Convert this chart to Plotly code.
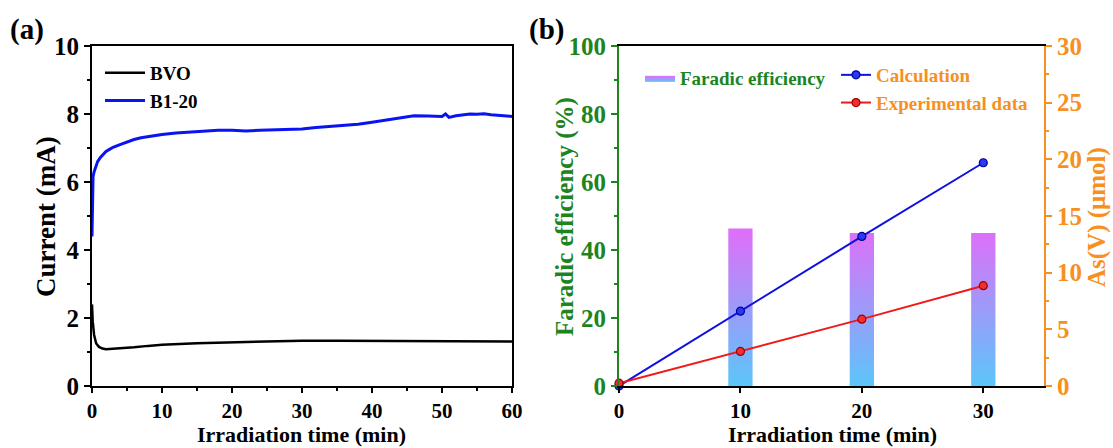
import plotly.graph_objects as go

# ---------------- Panel (a) data ----------------
time_bvo = [0, 0.1, 0.3, 0.6, 1.0, 1.5, 2, 3, 4, 6, 8, 10, 15, 20, 25, 30, 35, 40, 45, 50, 55, 60]
cur_bvo = [2.4, 1.9, 1.5, 1.25, 1.15, 1.1, 1.08, 1.09, 1.1, 1.14, 1.18, 1.21, 1.26, 1.29, 1.31,
           1.33, 1.33, 1.33, 1.32, 1.32, 1.31, 1.31]

time_b120 = [0, 0.05, 0.15, 0.3, 0.5, 0.8, 1.2, 1.6, 2, 2.5, 3, 4, 5, 6, 7, 8, 9, 10, 12, 14, 16,
             18, 20, 22, 24, 26, 28, 30, 32, 34, 36, 38, 40, 42, 44, 45, 46, 48, 50, 50.5, 51, 52,
             53, 54, 55, 56, 57, 58, 59, 60]
cur_b120 = [4.4, 5.9, 6.15, 6.3, 6.45, 6.6, 6.72, 6.82, 6.9, 6.96, 7.02, 7.1, 7.18, 7.25, 7.3,
            7.34, 7.37, 7.4, 7.44, 7.47, 7.5, 7.52, 7.52, 7.5, 7.52, 7.53, 7.55, 7.56, 7.6, 7.63,
            7.66, 7.7, 7.76, 7.82, 7.88, 7.92, 7.95, 7.94, 7.93, 8.0, 7.9, 7.95, 7.98, 8.0, 7.99,
            8.01, 7.98, 7.97, 7.95, 7.93]

# ---------------- Panel (b) data ----------------
fe_time = [10, 20, 30]
fe_values = [46.3, 45.0, 45.0]
as_time = [0, 10, 20, 30]
as_calc = [0.0, 6.6, 13.2, 19.7]
as_exp = [0.25, 3.05, 5.9, 8.85]

BAR_W = 2.0
GREEN = '#1E841E'
ORANGE = '#F7901E'
FONT = 'Liberation Serif'
W, H = 1113, 448

fig = go.Figure()

# Panel (a)
fig.add_trace(go.Scatter(x=time_bvo, y=cur_bvo, mode='lines', name='BVO',
                         line=dict(color='black', width=2.5), xaxis='x', yaxis='y',
                         legend='legend3'))
fig.add_trace(go.Scatter(x=time_b120, y=cur_b120, mode='lines', name='B1-20',
                         line=dict(color='#0A14F0', width=3), xaxis='x', yaxis='y',
                         legend='legend3'))

# Panel (b) bars with vertical gradient (polygons built from data)
bx, by = [], []
for t, h in zip(fe_time, fe_values):
    bx += [t - BAR_W / 2, t + BAR_W / 2, t + BAR_W / 2, t - BAR_W / 2, t - BAR_W / 2, None]
    by += [0, 0, h, h, 0, None]
fig.add_trace(go.Scatter(x=bx, y=by, mode='lines', fill='toself', name='Faradic efficiency',
                         line=dict(width=0, color='rgba(0,0,0,0)'),
                         fillgradient=dict(type='vertical', start=0, stop=max(fe_values),
                                           colorscale=[[0, '#5BC6FA'], [1, '#E06EF8']]),
                         xaxis='x2', yaxis='y2', legend='legend'))

fig.add_trace(go.Scatter(x=as_time, y=as_calc, mode='lines+markers', name='Calculation',
                         line=dict(color='#1010E0', width=2),
                         marker=dict(size=8, color='#2A3AF0', line=dict(color='#0000A0', width=1.2)),
                         xaxis='x2', yaxis='y3', legend='legend2', cliponaxis=False))
fig.add_trace(go.Scatter(x=as_time, y=as_exp, mode='lines+markers', name='Experimental data',
                         line=dict(color='#F01818', width=2),
                         marker=dict(size=8, color='#F03030', line=dict(color='#A00000', width=1.2)),
                         xaxis='x2', yaxis='y3', legend='legend2', cliponaxis=False))

tickf = dict(family=FONT, size=25, color='black', weight='bold')
xtickf = dict(family=FONT, size=21, color='black', weight='bold')
legf = 19
ydom = [1 - 386 / H, 1 - 46 / H]

common_ax = dict(showgrid=False, zeroline=False, linewidth=2, ticks='outside', ticklen=6,
                 tickwidth=2, showline=True, automargin=False)
xcommon = dict(common_ax, ticklen=5)


def title_ann(text, x, y, color='black', size=25, angle=0, yanchor='middle'):
    return dict(text=text, x=x / W, y=1 - y / H, xref='paper', yref='paper',
                xanchor='center', yanchor=yanchor, showarrow=False, textangle=angle,
                borderpad=0, font=dict(family=FONT, size=size, color=color, weight='bold'))


fig.update_layout(
    width=W, height=H,
    margin=dict(l=0, r=0, t=0, b=0),
    paper_bgcolor='white', plot_bgcolor='white',
    xaxis=dict(domain=[92 / W, 512 / W], range=[0, 60], dtick=10, mirror=True,
               linecolor='black', tickcolor='black', tickfont=xtickf,
               minor=dict(dtick=5, ticks='outside', ticklen=3, tickwidth=2, tickcolor='black'),
               anchor='y', **xcommon),
    yaxis=dict(domain=ydom, range=[0, 10], dtick=2, mirror=True,
               linecolor='black', tickcolor='black', tickfont=tickf,
               minor=dict(dtick=1, ticks='outside', ticklen=3, tickwidth=2, tickcolor='black'),
               anchor='x', **common_ax),
    xaxis2=dict(domain=[619 / W, 1044 / W], range=[0, 35], dtick=10, mirror=True,
                linecolor='black', tickcolor='black', tickfont=xtickf,
                anchor='y2', **xcommon),
    yaxis2=dict(domain=ydom, range=[0, 100], dtick=20,
                linecolor=GREEN, tickcolor=GREEN, tickfont=dict(tickf, color=GREEN),
                minor=dict(dtick=10, ticks='outside', ticklen=3, tickwidth=2, tickcolor=GREEN),
                anchor='x2', **common_ax),
    yaxis3=dict(range=[0, 30], dtick=5, overlaying='y2', side='right', anchor='x2',
                linecolor=ORANGE, tickcolor=ORANGE, tickfont=dict(tickf, color=ORANGE),
                minor=dict(dtick=2.5, ticks='outside', ticklen=3, tickwidth=2, tickcolor=ORANGE),
                **common_ax),
    legend3=dict(x=100 / W, y=1 - 54 / H, xanchor='left', yanchor='top',
                 bgcolor='rgba(0,0,0,0)', font=dict(family=FONT, size=legf, color='black', weight='bold'),
                 tracegroupgap=0, itemwidth=40),
    legend=dict(x=640 / W, y=1 - 59 / H, xanchor='left', yanchor='top',
                bgcolor='rgba(0,0,0,0)', font=dict(family=FONT, size=legf, color=GREEN, weight='bold'),
                itemwidth=30),
    legend2=dict(x=836 / W, y=1 - 56 / H, xanchor='left', yanchor='top',
                 bgcolor='rgba(0,0,0,0)', font=dict(family=FONT, size=legf, color=ORANGE, weight='bold'),
                 itemwidth=30),
    showlegend=True,
    annotations=[
        dict(text='(a)', x=8 / W, y=1 - 30 / H, xref='paper', yref='paper', xanchor='left',
             yanchor='middle', showarrow=False, font=dict(family=FONT, size=29, color='black', weight='bold')),
        dict(text='(b)', x=527 / W, y=1 - 30 / H, xref='paper', yref='paper', xanchor='left',
             yanchor='middle', showarrow=False, font=dict(family=FONT, size=29, color='black', weight='bold')),
        title_ann('Irradiation time (min)', 301, 448, size=22, yanchor='bottom'),
        title_ann('Irradiation time (min)', 832, 448, size=22, yanchor='bottom'),
        title_ann('Current (mA)', 46, 217, size=27, angle=-90),
        title_ann('Faradic efficiency (%)', 565, 217, color=GREEN, angle=-90),
        title_ann('As(V) (μmol)', 1097, 217, color=ORANGE, angle=-90),
    ],
)

fig.write_html('out.html')
